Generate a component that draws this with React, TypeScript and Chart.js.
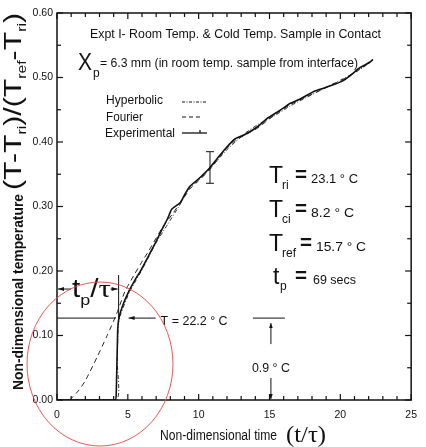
import React, { useEffect, useRef } from 'react';
import { Chart, registerables } from 'chart.js';

Chart.register(...registerables);

// ---- axes ----
const X_MIN = 0;
const X_MAX = 25;
const Y_MIN = 0;
const Y_MAX = 0.6;
const X_MAJOR_STEP = 5;
const Y_MAJOR_STEP = 0.1;

// ---- data (non-dimensional time t/tau, non-dimensional temperature) ----
const expT = [0, 4.1, 4.18, 4.28, 4.38, 4.7, 5.13, 5.5, 5.93, 6.5, 7.0, 7.4, 7.8, 8.1, 8.4, 8.7, 9.0, 9.37, 10.0, 10.74, 11.3, 11.9, 12.58, 13.3, 14.18, 14.8, 15.3, 16.0, 16.47, 17.0, 17.6, 18.2, 18.76, 19.4, 20.1, 20.7, 21.3, 21.7, 22.1, 22.3];
const expV = [0, 0, 0.008, 0.105, 0.128, 0.15, 0.171, 0.186, 0.2015, 0.225, 0.246, 0.264, 0.281, 0.296, 0.301, 0.306, 0.318, 0.331, 0.343, 0.359, 0.374, 0.39, 0.405, 0.412, 0.424, 0.436, 0.443, 0.453, 0.46, 0.465, 0.472, 0.479, 0.483, 0.488, 0.494, 0.503, 0.514, 0.519, 0.524, 0.528];

const hypT = [0, 4.2, 4.25, 4.33, 4.5, 5.13, 5.93, 6.5, 7.0, 7.8, 8.6, 9.37, 10.0, 10.74, 11.9, 12.58, 13.3, 14.18, 15.3, 16.47, 17.6, 18.76, 20.1, 21.3, 22.2];
const hypV = [0, 0, 0.06, 0.118, 0.133, 0.168, 0.199, 0.223, 0.244, 0.272, 0.3, 0.329, 0.341, 0.357, 0.386, 0.4, 0.414, 0.427, 0.44, 0.456, 0.469, 0.482, 0.497, 0.511, 0.525];

const fouT = [0.9, 1.5, 2.0, 2.84, 3.5, 4.2, 4.79, 5.5, 5.93, 6.5, 7.4, 8.2, 9.0, 9.37, 10.0, 10.74, 11.9, 12.58, 14.18, 15.3, 16.47, 17.6, 18.76, 20.1, 21.3, 22.2];
const fouV = [0, 0.014, 0.03, 0.067, 0.098, 0.133, 0.168, 0.196, 0.212, 0.232, 0.266, 0.29, 0.315, 0.327, 0.34, 0.356, 0.388, 0.402, 0.422, 0.441, 0.458, 0.47, 0.482, 0.496, 0.512, 0.526];

// error bar on the experimental curve
const errT = 10.8;
const errLo = 0.336;
const errHi = 0.385;

// markers
const tpOverTau = 4.35;   // t_p / tau
const kneeV = 0.127;      // T = 22.2 C level
const tpArrowV = 0.172;
const dT09T = 15.1;       // 0.9 C marker position

const toPts = (t: number[], v: number[]) => t.map((x, i) => ({ x, y: v[i] }));

type Seg = { s: string; size: number; dy?: number; serif?: boolean; bold?: boolean };
const segFont = (g: Seg) =>
  `${g.bold ? 'bold ' : ''}${g.size}px ${g.serif ? '"Liberation Serif", serif' : '"Liberation Sans", Arial, sans-serif'}`;

function drawRich(ctx: CanvasRenderingContext2D, segs: Seg[], x: number, y: number, width?: number) {
  const widths = segs.map((g) => {
    ctx.font = segFont(g);
    return ctx.measureText(g.s).width;
  });
  const total = widths.reduce((a, b) => a + b, 0);
  const k = width ? width / total : 1;
  ctx.save();
  ctx.translate(x, y);
  ctx.scale(k, 1);
  ctx.textAlign = 'left';
  ctx.textBaseline = 'alphabetic';
  let cx = 0;
  segs.forEach((g, i) => {
    ctx.font = segFont(g);
    ctx.fillText(g.s, cx, g.dy || 0);
    cx += widths[i];
  });
  ctx.restore();
}

function seg(ctx: CanvasRenderingContext2D, x1: number, y1: number, x2: number, y2: number) {
  ctx.beginPath();
  ctx.moveTo(x1, y1);
  ctx.lineTo(x2, y2);
  ctx.stroke();
}

function arrow(ctx: CanvasRenderingContext2D, x1: number, y1: number, x2: number, y2: number, len = 6, half = 2) {
  seg(ctx, x1, y1, x2, y2);
  const a = Math.atan2(y2 - y1, x2 - x1);
  ctx.beginPath();
  ctx.moveTo(x2, y2);
  ctx.lineTo(x2 - len * Math.cos(a) + half * Math.sin(a), y2 - len * Math.sin(a) - half * Math.cos(a));
  ctx.lineTo(x2 - len * Math.cos(a) - half * Math.sin(a), y2 - len * Math.sin(a) + half * Math.cos(a));
  ctx.closePath();
  ctx.fill();
}

const decor = {
  id: 'decor',
  afterDraw(chart: any) {
    const ctx: CanvasRenderingContext2D = chart.ctx;
    const xs = chart.scales.x;
    const ys = chart.scales.y;
    const X = (t: number) => xs.getPixelForValue(t);
    const Y = (v: number) => ys.getPixelForValue(v);
    const { left, right, top, bottom } = chart.chartArea;
    ctx.save();
    ctx.strokeStyle = '#111';
    ctx.fillStyle = '#111';

    // frame
    ctx.lineWidth = 1.5;
    ctx.strokeRect(left, top, right - left, bottom - top);

    // inward ticks
    ctx.lineWidth = 1.2;
    xs.ticks.forEach((tk: any) => {
      const t = tk.value;
      const major = Math.abs(t / X_MAJOR_STEP - Math.round(t / X_MAJOR_STEP)) < 1e-6;
      const L = major ? 6 : 4;
      seg(ctx, X(t), bottom, X(t), bottom - L);
      seg(ctx, X(t), top, X(t), top + L);
    });
    ys.ticks.forEach((tk: any) => {
      const v = tk.value;
      const n = Math.round(v * 100);
      const major = n % Math.round(Y_MAJOR_STEP * 100) === 0;
      const L = major ? 6 : 4;
      seg(ctx, left, Y(v), left + L, Y(v));
      seg(ctx, right, Y(v), right - L, Y(v));
    });

    // error bar
    ctx.lineWidth = 1;
    seg(ctx, X(errT), Y(errLo), X(errT), Y(errHi));
    seg(ctx, X(errT) - 4, Y(errLo), X(errT) + 4, Y(errLo));
    seg(ctx, X(errT) - 4, Y(errHi), X(errT) + 4, Y(errHi));

    // T = 22.2 C level line and t_p/tau marker
    seg(ctx, X(0), Y(kneeV), X(tpOverTau) - 3, Y(kneeV));
    seg(ctx, X(tpOverTau), Y(kneeV), X(tpOverTau), Y(tpArrowV) - 14);
    arrow(ctx, X(0) + 14, Y(tpArrowV), X(0) + 1, Y(tpArrowV));
    arrow(ctx, X(tpOverTau) - 8, Y(tpArrowV), X(tpOverTau) - 1, Y(tpArrowV));
    arrow(ctx, X(tpOverTau) + 37, Y(kneeV), X(tpOverTau) + 10, Y(kneeV));

    // 0.9 C marker
    seg(ctx, X(dT09T) - 18, Y(kneeV), X(dT09T) + 14, Y(kneeV));
    arrow(ctx, X(dT09T), Y(kneeV) + 26, X(dT09T), Y(kneeV) + 5, 5, 1.8);
    arrow(ctx, X(dT09T), bottom - 22, X(dT09T), bottom - 1, 5, 1.8);

    // legend samples
    ctx.lineWidth = 1;
    ctx.setLineDash([3, 1.5, 1, 1.5]);
    seg(ctx, 182, 102, 207, 102);
    ctx.setLineDash([4, 3]);
    seg(ctx, 182, 117, 202, 117);
    ctx.setLineDash([]);
    ctx.lineWidth = 1.3;
    seg(ctx, 182, 133, 207, 133);
    seg(ctx, 200, 133, 200, 130);

    // texts
    ctx.fillStyle = '#111';
    drawRich(ctx, [{ s: 'Expt I- Room Temp. & Cold Temp. Sample in Contact', size: 13 }], 90, 38, 291);
    drawRich(ctx, [{ s: 'X', size: 23 }], 78, 70, 14);
    drawRich(ctx, [{ s: 'p', size: 12 }], 93, 77);
    drawRich(ctx, [{ s: '= 6.3 mm (in room temp. sample from interface)', size: 13 }], 100, 67, 258);

    drawRich(ctx, [{ s: 'Hyperbolic', size: 13 }], 106, 104, 57);
    drawRich(ctx, [{ s: 'Fourier', size: 13 }], 106, 121, 37);
    drawRich(ctx, [{ s: 'Experimental', size: 13 }], 105, 137, 70);

    const rows: { main: string; sub: string; eqX: number; valX: number; val: string; valW: number; y: number }[] = [
      { main: 'T', sub: 'ri', eqX: 295, valX: 311, val: '23.1 ° C', valW: 47, y: 183 },
      { main: 'T', sub: 'ci', eqX: 295, valX: 311, val: '8.2 ° C', valW: 43, y: 217 },
      { main: 'T', sub: 'ref', eqX: 300, valX: 316, val: '15.7 ° C', valW: 50, y: 251 },
      { main: 't', sub: 'p', eqX: 295, valX: 313, val: '69 secs', valW: 43, y: 284 },
    ];
    rows.forEach((r) => {
      drawRich(ctx, [{ s: r.main, size: 23 }], r.main === 't' ? 273 : 269, r.y);
      drawRich(ctx, [{ s: r.sub, size: 12 }], r.main === 't' ? 280 : 282, r.y + 6);
      drawRich(ctx, [{ s: '=', size: 20, bold: true }], r.eqX, r.y - 2, 12);
      drawRich(ctx, [{ s: r.val, size: 13 }], r.valX, r.y, r.valW);
    });

    drawRich(ctx, [{ s: 'T = 22.2 ° C', size: 13 }], X(tpOverTau) + 42, Y(kneeV) + 7, 67);
    drawRich(ctx, [{ s: '0.9 ° C', size: 13 }], X(dT09T) - 19, 372, 38);

    // t_p / tau label
    drawRich(
      ctx,
      [
        { s: 't', size: 25 },
        { s: 'p', size: 15, dy: 8 },
        { s: '/', size: 25 },
        { s: 'τ', size: 26, serif: true },
      ],
      X(0) + 15,
      Y(tpArrowV) + 8,
      39
    );

    // axis titles
    drawRich(ctx, [{ s: 'Non-dimensional time', size: 14 }], 160, 440, 117);
    drawRich(ctx, [{ s: '(t/τ)', size: 24, serif: true }], 286, 442, 40);

    ctx.save();
    ctx.translate(23, 390);
    ctx.rotate(-Math.PI / 2);
    drawRich(ctx, [{ s: 'Non-dimensional temperature', size: 14, bold: true }], 0, 0, 196);
    ctx.restore();

    ctx.save();
    ctx.translate(21, 190);
    ctx.rotate(-Math.PI / 2);
    drawRich(
      ctx,
      [
        { s: '(T-T', size: 23 },
        { s: 'ri', size: 12, dy: 5 },
        { s: ')/(T', size: 23 },
        { s: 'ref', size: 12, dy: 5 },
        { s: '-T', size: 23 },
        { s: 'ri', size: 12, dy: 5 },
        { s: ')', size: 23 },
      ],
      0,
      0,
      177
    );
    ctx.restore();

    // red circle
    ctx.strokeStyle = 'rgba(232, 70, 70, 0.9)';
    ctx.lineWidth = 1;
    ctx.beginPath();
    ctx.ellipse(100, 364, 73, 82, 0, 0, Math.PI * 2);
    ctx.stroke();

    ctx.restore();
  },
};

export default function App() {
  const ref = useRef<HTMLCanvasElement>(null);
  useEffect(() => {
    const chart = new Chart(ref.current!, {
      type: 'line',
      data: {
        datasets: [
          {
            label: 'Experimental',
            data: toPts(expT, expV),
            borderColor: '#111',
            borderWidth: 1.6,
            pointRadius: 0,
            tension: 0.2,
            fill: false,
          },
          {
            label: 'Hyperbolic',
            data: toPts(hypT, hypV),
            borderColor: '#333',
            borderWidth: 1,
            borderDash: [4, 2, 1, 2],
            pointRadius: 0,
            tension: 0.2,
            fill: false,
          },
          {
            label: 'Fourier',
            data: toPts(fouT, fouV),
            borderColor: '#222',
            borderWidth: 1,
            borderDash: [5, 4],
            pointRadius: 0,
            tension: 0.2,
            fill: false,
          },
        ],
      },
      options: {
        animation: false,
        responsive: false,
        devicePixelRatio: 1,
        layout: { padding: { left: 0, right: 6, top: 13, bottom: 0 } },
        plugins: { legend: { display: false }, tooltip: { enabled: false } },
        scales: {
          x: {
            type: 'linear',
            min: X_MIN,
            max: X_MAX,
            grid: { display: false, drawTicks: false },
            border: { display: false },
            afterFit: (s: any) => {
              s.height = 47;
            },
            ticks: {
              stepSize: 1,
              autoSkip: false,
              maxRotation: 0,
              padding: 9,
              color: '#111',
              font: { family: '"Liberation Sans", Arial', size: 10.5 },
              callback: (v: any) => (Math.abs(v / X_MAJOR_STEP - Math.round(v / X_MAJOR_STEP)) < 1e-6 ? String(v) : ''),
            },
          },
          y: {
            type: 'linear',
            min: Y_MIN,
            max: Y_MAX,
            grid: { display: false, drawTicks: false },
            border: { display: false },
            afterFit: (s: any) => {
              s.width = 57;
            },
            ticks: {
              stepSize: 0.05,
              autoSkip: false,
              padding: 4,
              color: '#111',
              font: { family: '"Liberation Sans", Arial', size: 10.5 },
              callback: (v: any) => {
                const n = Math.round(v * 100);
                return n % Math.round(Y_MAJOR_STEP * 100) === 0 ? (n / 100).toFixed(2) : '';
              },
            },
          },
        },
      },
      plugins: [decor],
    });
    return () => chart.destroy();
  }, []);
  return (
    <div style={{ position: 'absolute', left: 0, top: 0, width: 426, height: 447, background: '#fff' }}>
      <canvas ref={ref} width={426} height={447} style={{ display: 'block', width: 426, height: 447 }} />
    </div>
  );
}
